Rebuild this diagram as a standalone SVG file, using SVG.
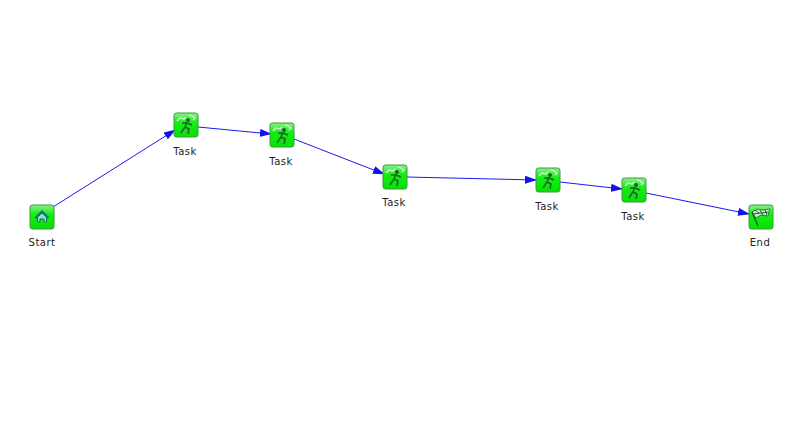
<svg xmlns="http://www.w3.org/2000/svg" width="800" height="446" viewBox="0 0 800 446">
<style>
.lbl{font-family:"DejaVu Sans",sans-serif;font-size:10px;letter-spacing:.5px;fill:#222;text-anchor:middle}
.c{stroke:#1a1af0;stroke-width:1;fill:none;marker-end:url(#a)}
.box{fill:url(#g);stroke:#3a9a3a;stroke-width:1}
.gl{fill:none;stroke:#1f5f2f;stroke-width:1.5}
.wh{fill:none;stroke:#e4f4e4;stroke-width:1.200}
</style>
<defs>
<marker id="a" markerWidth="12" markerHeight="8" refX="11" refY="4" orient="auto" markerUnits="userSpaceOnUse"><path d="M0 0L12 4L0 8z" fill="#1010f0"/></marker>
<linearGradient id="g" x1="0" y1="0" x2="0" y2="1"><stop offset="0" stop-color="#8cf08c"/><stop offset=".4" stop-color="#12ee12"/><stop offset="1" stop-color="#08e008"/></linearGradient>
<g id="task"><rect class="box" x="-12" y="-12" width="24" height="24" rx="2.500"/><path class="wh" d="M-9-4L-6-7L-2-6L0-8M3-10L6-9L9-7L7-5"/><circle cx="2" cy="-5" r="2" fill="#1f5f2f"/><path class="gl" d="M1-3L-1 2L-5 8M-1 2L3 4L2 9M1-2L6 0M1-2L-4-2"/></g>
</defs>
<rect width="800" height="446" fill="#fff"/>
<g id="connectors">
<path class="c" d="M53 207L175 130"/>
<path class="c" d="M198 127L271 134"/>
<path class="c" d="M294 139L384 174"/>
<path class="c" d="M407 177L536 180"/>
<path class="c" d="M560 182L622 189"/>
<path class="c" d="M646 193L749 214"/>
</g>
<g id="start"><rect class="box" x="30" y="205" width="24" height="24" rx="2.500"/><path d="M35.500 218L42 211.500L48.500 218" fill="none" stroke="#1f6f5f" stroke-width="2"/><path d="M37.500 222V217L42 213L46.500 217V222H44V219H40V222Z" fill="#7fe0e0" stroke="#1f6f5f"/><text class="lbl" x="42" y="246">Start</text></g>
<g id="task1"><use href="#task" x="186" y="125"/><text class="lbl" x="185" y="155">Task</text></g>
<g id="task2"><use href="#task" x="282" y="135"/><text class="lbl" x="281" y="165">Task</text></g>
<g id="task3"><use href="#task" x="395" y="177"/><text class="lbl" x="394" y="206">Task</text></g>
<g id="task4"><use href="#task" x="548" y="180"/><text class="lbl" x="547" y="210">Task</text></g>
<g id="task5"><use href="#task" x="634" y="190"/><text class="lbl" x="633" y="220">Task</text></g>
<g id="end"><rect class="box" x="749" y="205" width="24" height="24" rx="2.500"/><path d="M752 212L757 209L762 210L770 209L768 216L761 215L756 218Z" fill="#cfe8cf" stroke="#1f5f2f" stroke-width=".8"/><path d="M755 210L759 213M760 210L763 215M765 210L767 215M753 214L769 212" stroke="#1f5f2f" stroke-width="1" fill="none"/><path d="M752 212L758 226" stroke="#1f5f2f" stroke-width="1.500"/><text class="lbl" x="760" y="246">End</text></g>
</svg>
